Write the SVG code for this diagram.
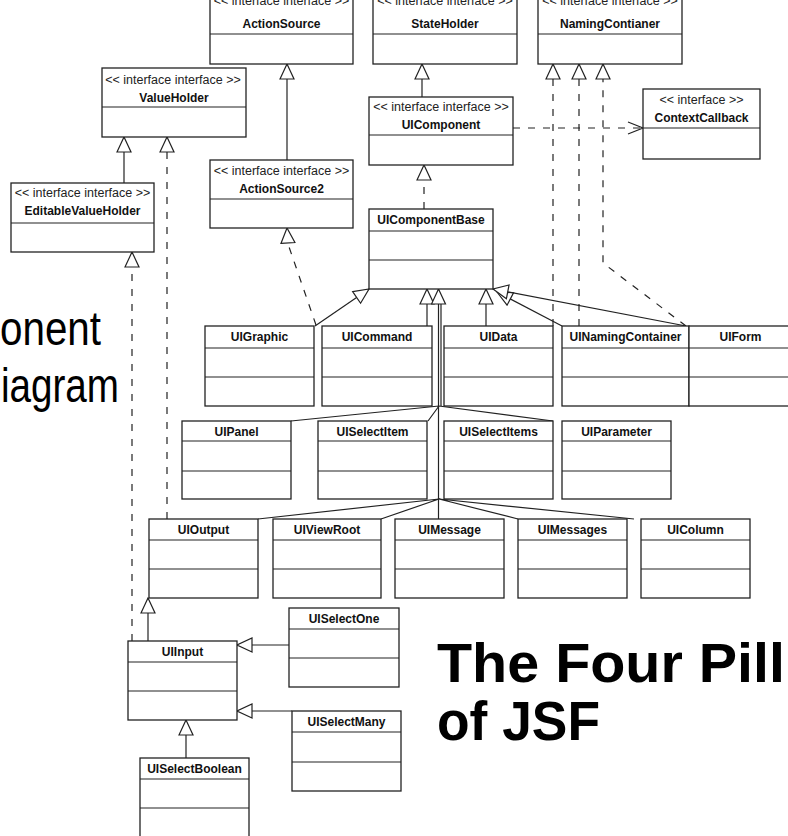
<svg xmlns="http://www.w3.org/2000/svg" width="788" height="836" viewBox="0 0 788 836">
<style>
.bg{fill:#fff}
.box{fill:#fff;stroke:#222;stroke-width:1.3}
.dv{stroke:#222;stroke-width:1.2;fill:none}
.t{font-family:"Liberation Sans",Arial,sans-serif;font-size:12px;font-weight:bold;text-anchor:middle;fill:#111}
.st{font-family:"Liberation Sans",Arial,sans-serif;font-size:12.5px;text-anchor:middle;fill:#222}
.c{stroke:#222;stroke-width:1.2;fill:none}
.d{stroke-dasharray:7 8}
.big{font-family:"Liberation Sans",Arial,sans-serif;font-weight:bold;font-size:55px;fill:#000}
.side{font-family:"Liberation Sans Narrow","Liberation Sans",Arial,sans-serif;font-size:48px;fill:#000}
</style>
<defs>
<marker id="gen" markerUnits="userSpaceOnUse" viewBox="-1 -1 17 16" markerWidth="17" markerHeight="16" refX="15" refY="7" orient="auto"><path d="M0,0 L15,7 L0,14 Z" fill="#fff" stroke="#222" stroke-width="1.2"/></marker>
<marker id="dep" markerUnits="userSpaceOnUse" viewBox="-1 -1 17 14" markerWidth="17" markerHeight="14" refX="15" refY="6" orient="auto"><path d="M0,0 L15,6 L0,12" fill="none" stroke="#222" stroke-width="1.2"/></marker>
</defs>
<rect class="bg" x="0" y="0" width="788" height="836"/>

<g id="slide-text">
<text class="side" x="0" y="345" textLength="101" lengthAdjust="spacingAndGlyphs">onent</text>
<text class="side" x="1" y="402" textLength="118" lengthAdjust="spacingAndGlyphs">iagram</text>
<text class="big" x="437" y="682" textLength="348" lengthAdjust="spacingAndGlyphs">The Four Pill</text>
<text class="big" x="437" y="740" textLength="163" lengthAdjust="spacingAndGlyphs">of JSF</text>
</g>

<g id="connectors">
<path class="c" d="M287,160 V64" marker-end="url(#gen)"/>
<path class="c" d="M422,97 V64" marker-end="url(#gen)"/>
<path class="c" d="M124,183 V137" marker-end="url(#gen)"/>
<path class="c d" d="M167,519 V137" marker-end="url(#gen)"/>
<path class="c d" d="M132,641 V252" marker-end="url(#gen)"/>
<path class="c d" d="M424,209 V165" marker-end="url(#gen)"/>
<path class="c d" d="M513,128 H643" marker-end="url(#dep)"/>
<path class="c d" d="M553,326 V64" marker-end="url(#gen)"/>
<path class="c d" d="M579,326 V64" marker-end="url(#gen)"/>
<path class="c d" d="M686,326 L603,263 V64" marker-end="url(#gen)"/>
<path class="c" d="M315,326 L369,289" marker-end="url(#gen)"/>
<path class="c d" d="M316,325 L288,244 L287,228" marker-end="url(#gen)"/>
<path class="c" d="M427,326 V289" marker-end="url(#gen)"/>
<path class="c" d="M441,406 V304"/>
<path class="c" d="M438.5,519 V289" marker-end="url(#gen)"/>
<path class="c" d="M486,326 V289" marker-end="url(#gen)"/>
<path class="c" d="M562,326 L497,292" marker-end="url(#gen)"/>
<path class="c" d="M686,326 L493,289" marker-end="url(#gen)"/>
<path class="c" d="M439,406 L291,421 M439,406 L428,421 M439,406 L553,421"/>
<path class="c" d="M439,499 L258,519 M439,499 L381,519 M439,499 L518,519 M439,499 L634,519"/>
<path class="c" d="M148,641 V598" marker-end="url(#gen)"/>
<path class="c" d="M289,645 H237" marker-end="url(#gen)"/>
<path class="c" d="M292,711 H237" marker-end="url(#gen)"/>
<path class="c" d="M186,758 V720" marker-end="url(#gen)"/>
</g>

<g id="ActionSource">
<rect class="box" x="210" y="-8" width="143" height="72"/>
<path class="dv" d="M210,34 H353"/>
<text class="st" x="281.5" y="4.5">&lt;&lt; interface interface &gt;&gt;</text>
<text class="t" x="281.5" y="28">ActionSource</text>
</g>
<g id="StateHolder">
<rect class="box" x="373" y="-8" width="144" height="72"/>
<path class="dv" d="M373,34 H517"/>
<text class="st" x="445" y="4.5">&lt;&lt; interface interface &gt;&gt;</text>
<text class="t" x="445" y="28">StateHolder</text>
</g>
<g id="NamingContianer">
<rect class="box" x="538" y="-8" width="144" height="72"/>
<path class="dv" d="M538,34 H682"/>
<text class="st" x="610" y="4.5">&lt;&lt; interface interface &gt;&gt;</text>
<text class="t" x="610" y="28">NamingContianer</text>
</g>
<g id="ValueHolder">
<rect class="box" x="102" y="68" width="144" height="69"/>
<path class="dv" d="M102,107 H246"/>
<text class="st" x="173" y="84">&lt;&lt; interface interface &gt;&gt;</text>
<text class="t" x="174" y="102">ValueHolder</text>
</g>
<g id="UIComponent">
<rect class="box" x="369" y="97" width="144" height="68"/>
<path class="dv" d="M369,135 H513"/>
<text class="st" x="441" y="111">&lt;&lt; interface interface &gt;&gt;</text>
<text class="t" x="441" y="129">UIComponent</text>
</g>
<g id="ContextCallback">
<rect class="box" x="643" y="89" width="117" height="70"/>
<path class="dv" d="M643,128 H760"/>
<text class="st" x="701.5" y="104">&lt;&lt; interface &gt;&gt;</text>
<text class="t" x="701.5" y="122">ContextCallback</text>
</g>
<g id="ActionSource2">
<rect class="box" x="210" y="160" width="143" height="68"/>
<path class="dv" d="M210,199 H353"/>
<text class="st" x="281.5" y="175">&lt;&lt; interface interface &gt;&gt;</text>
<text class="t" x="281.5" y="193">ActionSource2</text>
</g>
<g id="EditableValueHolder">
<rect class="box" x="11" y="183" width="143" height="69"/>
<path class="dv" d="M11,223 H154"/>
<text class="st" x="82.5" y="197">&lt;&lt; interface interface &gt;&gt;</text>
<text class="t" x="82.5" y="215">EditableValueHolder</text>
</g>
<g id="UIComponentBase">
<rect class="box" x="369" y="209" width="124" height="80"/>
<path class="dv" d="M369,231 H493 M369,260 H493"/>
<text class="t" x="431" y="224">UIComponentBase</text>
</g>

<g id="UIGraphic">
<rect class="box" x="205" y="326" width="109" height="80"/>
<path class="dv" d="M205,348 H314 M205,377 H314"/>
<text class="t" x="259.5" y="341">UIGraphic</text>
</g>
<g id="UICommand">
<rect class="box" x="322" y="326" width="110" height="80"/>
<path class="dv" d="M322,348 H432 M322,377 H432"/>
<text class="t" x="377" y="341">UICommand</text>
</g>
<g id="UIData">
<rect class="box" x="444" y="326" width="109" height="80"/>
<path class="dv" d="M444,348 H553 M444,377 H553"/>
<text class="t" x="498.5" y="341">UIData</text>
</g>
<g id="UINamingContainer">
<rect class="box" x="562" y="326" width="127" height="80"/>
<path class="dv" d="M562,348 H689 M562,377 H689"/>
<text class="t" x="625.5" y="341">UINamingContainer</text>
</g>
<g id="UIForm">
<rect class="box" x="689" y="326" width="103" height="80"/>
<path class="dv" d="M689,348 H792 M689,377 H792"/>
<text class="t" x="740.5" y="341">UIForm</text>
</g>

<g id="UIPanel">
<rect class="box" x="182" y="421" width="109" height="78"/>
<path class="dv" d="M182,441 H291 M182,471 H291"/>
<text class="t" x="236.5" y="436">UIPanel</text>
</g>
<g id="UISelectItem">
<rect class="box" x="318" y="421" width="109" height="78"/>
<path class="dv" d="M318,441 H427 M318,471 H427"/>
<text class="t" x="372.5" y="436">UISelectItem</text>
</g>
<g id="UISelectItems">
<rect class="box" x="444" y="421" width="109" height="78"/>
<path class="dv" d="M444,441 H553 M444,471 H553"/>
<text class="t" x="498.5" y="436">UISelectItems</text>
</g>
<g id="UIParameter">
<rect class="box" x="562" y="421" width="109" height="78"/>
<path class="dv" d="M562,441 H671 M562,471 H671"/>
<text class="t" x="616.5" y="436">UIParameter</text>
</g>

<g id="UIOutput">
<rect class="box" x="149" y="519" width="109" height="79"/>
<path class="dv" d="M149,540 H258 M149,569 H258"/>
<text class="t" x="203.5" y="534">UIOutput</text>
</g>
<g id="UIViewRoot">
<rect class="box" x="273" y="519" width="108" height="79"/>
<path class="dv" d="M273,540 H381 M273,569 H381"/>
<text class="t" x="327" y="534">UIViewRoot</text>
</g>
<g id="UIMessage">
<rect class="box" x="395" y="519" width="109" height="79"/>
<path class="dv" d="M395,540 H504 M395,569 H504"/>
<text class="t" x="449.5" y="534">UIMessage</text>
</g>
<g id="UIMessages">
<rect class="box" x="518" y="519" width="109" height="79"/>
<path class="dv" d="M518,540 H627 M518,569 H627"/>
<text class="t" x="572.5" y="534">UIMessages</text>
</g>
<g id="UIColumn">
<rect class="box" x="641" y="519" width="109" height="79"/>
<path class="dv" d="M641,540 H750 M641,569 H750"/>
<text class="t" x="695.5" y="534">UIColumn</text>
</g>

<g id="UISelectOne">
<rect class="box" x="289" y="608" width="110" height="79"/>
<path class="dv" d="M289,629 H399 M289,658 H399"/>
<text class="t" x="344" y="623">UISelectOne</text>
</g>
<g id="UIInput">
<rect class="box" x="128" y="641" width="109" height="79"/>
<path class="dv" d="M128,662 H237 M128,691 H237"/>
<text class="t" x="182.5" y="656">UIInput</text>
</g>
<g id="UISelectMany">
<rect class="box" x="292" y="711" width="109" height="80"/>
<path class="dv" d="M292,732 H401 M292,762 H401"/>
<text class="t" x="346.5" y="726">UISelectMany</text>
</g>
<g id="UISelectBoolean">
<rect class="box" x="140" y="758" width="109" height="82"/>
<path class="dv" d="M140,779 H249 M140,808 H249"/>
<text class="t" x="194.5" y="773">UISelectBoolean</text>
</g>
</svg>
